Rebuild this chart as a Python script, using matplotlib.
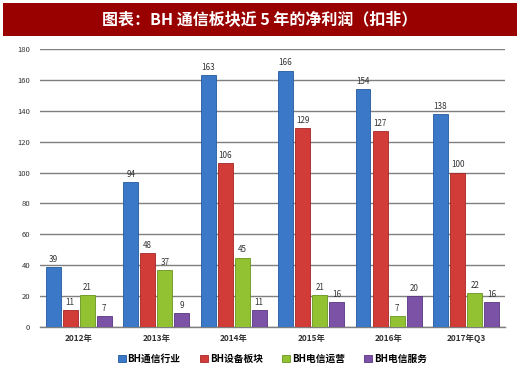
import matplotlib.pyplot as plt
import numpy as np

plt.rcParams['font.family'] = ['Noto Sans CJK SC', 'DejaVu Sans']

# 数据
years = ['2012年', '2013年', '2014年', '2015年', '2016年', '2017年Q3']
series = ['BH通信行业', 'BH设备板块', 'BH电信运营', 'BH电信服务']
tongxin = [39, 94, 163, 166, 154, 138]
shebei = [11, 48, 106, 129, 127, 100]
yunying = [21, 37, 45, 21, 7, 22]
fuwu = [7, 9, 11, 16, 20, 16]
colores = ['#3b78c8', '#d23c38', '#92c132', '#7b52a6']
bordes = ['#245a9e', '#a32624', '#6a9420', '#573580']

fig = plt.figure(figsize=(5.2, 3.79), dpi=100)
fig.patch.set_facecolor('white')

# banner del titulo
fig.patches.append(plt.Rectangle((0.006, 0.905), 0.988, 0.088, transform=fig.transFigure,
                                 facecolor='#990000', edgecolor='none'))
fig.text(0.5, 0.949, '图表：BH 通信板块近 5 年的净利润（扣非）', color='white',
         fontsize=11.5, fontweight='bold', ha='center', va='center')

ax = fig.add_axes([0.077, 0.137, 0.894, 0.734])
x = np.arange(len(years))
ancho = 0.19
for i, (vals, c, b) in enumerate(zip([tongxin, shebei, yunying, fuwu], colores, bordes)):
    pos = x + (i - 1.5) * (ancho + 0.03)
    ax.bar(pos, vals, ancho, color=c, edgecolor=b, linewidth=0.6,
           label=series[i], zorder=3)
    for p, v in zip(pos, vals):
        ax.text(p, v + 2, str(v), ha='center', va='bottom', fontsize=5.8, color='#333333')

ax.set_ylim(0, 180)
ax.set_xlim(-0.5, len(years) - 0.5)
ax.set_yticks(np.arange(0, 181, 20))
ax.set_xticks(x)
ax.set_xticklabels(years, fontsize=6, fontweight='bold', color='#333333')
ax.tick_params(axis='y', labelsize=5.5, length=0, colors='#333333', pad=7)
ax.tick_params(axis='x', length=0, pad=5)
ax.grid(axis='y', color='#7f7f7f', linewidth=1.0, zorder=0)
for s in ['top', 'right', 'left']:
    ax.spines[s].set_visible(False)
ax.spines['bottom'].set_color('#7f7f7f')
ax.spines['bottom'].set_linewidth(1.0)

ax.legend(loc='upper center', bbox_to_anchor=(0.5, -0.065), ncol=4, frameon=False,
          handlelength=0.8, handleheight=0.8, handletextpad=0.2,
          columnspacing=2.0, prop={'weight': 'bold', 'size': 7})

plt.savefig('out.png', dpi=100)
